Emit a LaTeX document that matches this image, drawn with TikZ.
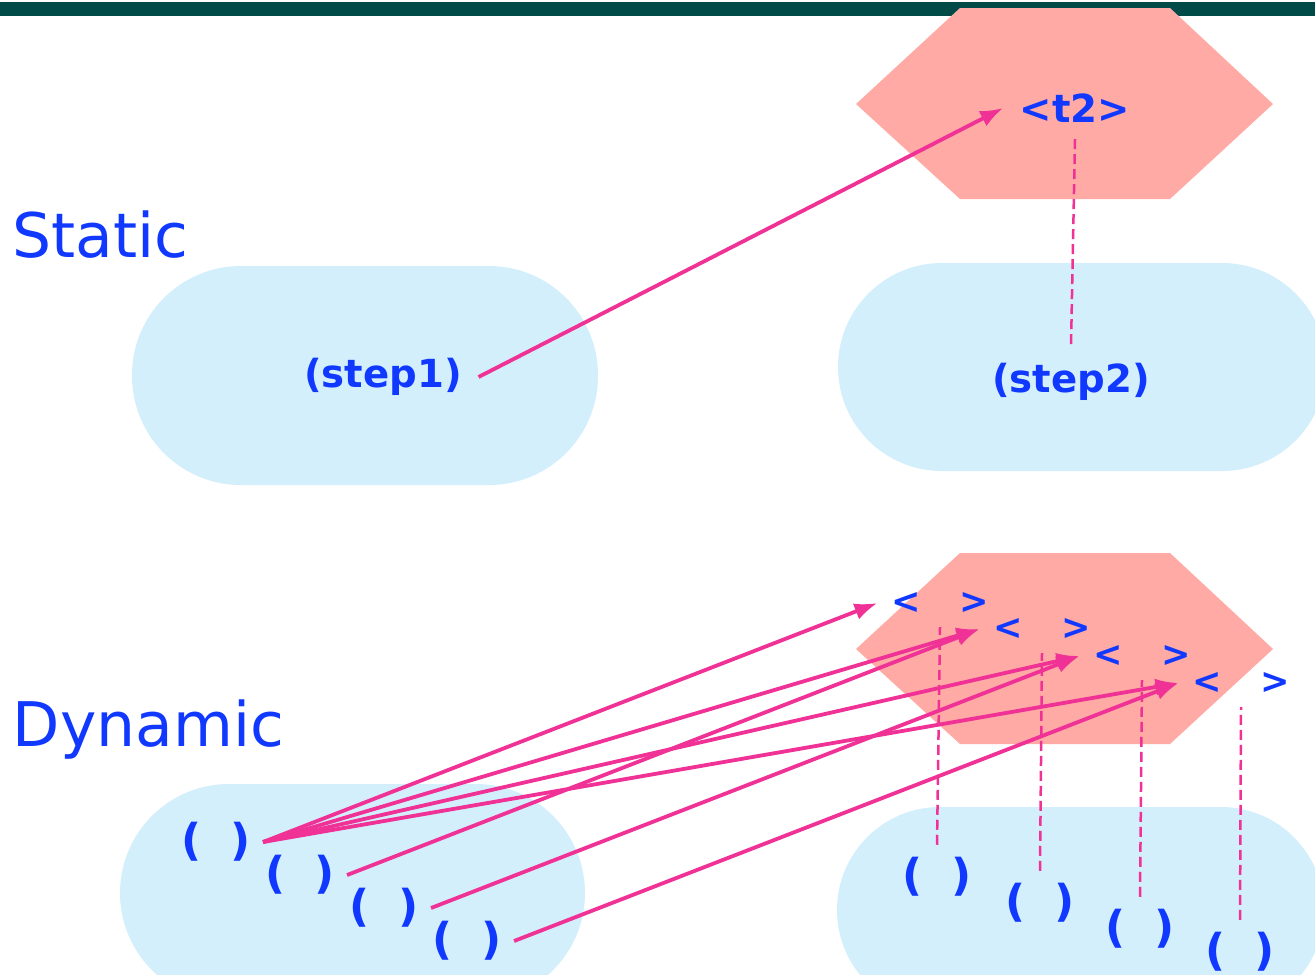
\documentclass[tikz,border=0pt]{standalone}
\usepackage{fontspec}
\setmainfont{DejaVu Sans}
\usetikzlibrary{arrows.meta}

\definecolor{barteal}{RGB}{0,75,72}
\definecolor{hexpink}{RGB}{255,170,165}
\definecolor{pillblue}{RGB}{212,239,252}
\definecolor{labelblue}{RGB}{16,56,255}
\definecolor{linkpink}{RGB}{240,50,150}

\begin{document}
\begin{tikzpicture}[x=0.1mm, y=-0.1mm,
    lbl/.style={text=labelblue, font=\bfseries\fontsize{11}{13}\selectfont, inner sep=1.6mm},
    par/.style={text=labelblue, font=\bfseries\fontsize{12.5}{15}\selectfont, inner sep=1.2mm},
    ang/.style={text=labelblue, font=\bfseries\fontsize{10}{12}\selectfont, inner sep=1.3mm},
    title/.style={text=labelblue, font=\fontsize{17.5}{20}\selectfont, anchor=west, inner sep=0pt},
    link/.style={draw=linkpink, line width=0.38mm, -{Latex[length=2.3mm, width=1.7mm]}},
    trace/.style={draw=linkpink, line width=0.25mm, dash pattern=on 1mm off 0.5mm}]

    \clip (0,0) rectangle (1315,974);
    \fill[white] (0,0) rectangle (1315,974);
    \fill[barteal] (0,2) rectangle (1315,16);

    % pills
    \fill[pillblue, rounded corners=10.9mm] (132,266) rectangle (598,485);
    \fill[pillblue, rounded corners=10.4mm] (838,263) rectangle (1326,471);
    \fill[pillblue, rounded corners=10.9mm] (120,784) rectangle (585,1002);
    \fill[pillblue, rounded corners=10.3mm] (837,807) rectangle (1324,1013);

    % hexagons (static / dynamic)
    \foreach \dy in {0,545}
        \fill[hexpink, yshift=-\dy*0.1mm]
            (856,104) -- (960,8) -- (1170,8) -- (1273,104) -- (1170,199) -- (960,199) -- cycle;

    \node[title] (static) at (12,235) {Static};
    \node[title] (dynamic) at (12,730) {Dynamic};

    \node[lbl] (step1) at (383,377) {(step1)};
    \node[lbl] (step2) at (1071,382) {(step2)};
    \node[lbl] (t2) at (1075,108) {<t2>};

    % instances
    \foreach \i/\px/\py in {1/216/842, 2/300/875, 3/384/908, 4/467/941}
        \node[par] (l\i) at (\px,\py) {(\hspace{.65em})};
    \foreach \i/\px/\py in {1/937/877, 2/1040/903, 3/1140/929, 4/1240/952}
        \node[par] (r\i) at (\px,\py) {(\hspace{.65em})};
    \foreach \i/\px/\py in {1/940/603, 2/1042/629, 3/1142/656, 4/1241/683}
        \node[ang] (a\i) at (\px,\py) {<\hspace{1.1em}>};

    \draw[link] (step1.east) -- (t2.west);
    \draw[trace] (t2.south) -- (step2.north);

    \foreach \i in {1,...,4}
        \draw[link] (l1.east) -- (a\i.west);
    \foreach \i in {2,3,4}
        \draw[link] (l\i.east) -- (a\i.west);
    \foreach \i in {1,...,4}
        \draw[trace] (r\i.north) -- (a\i.south);
\end{tikzpicture}
\end{document}
